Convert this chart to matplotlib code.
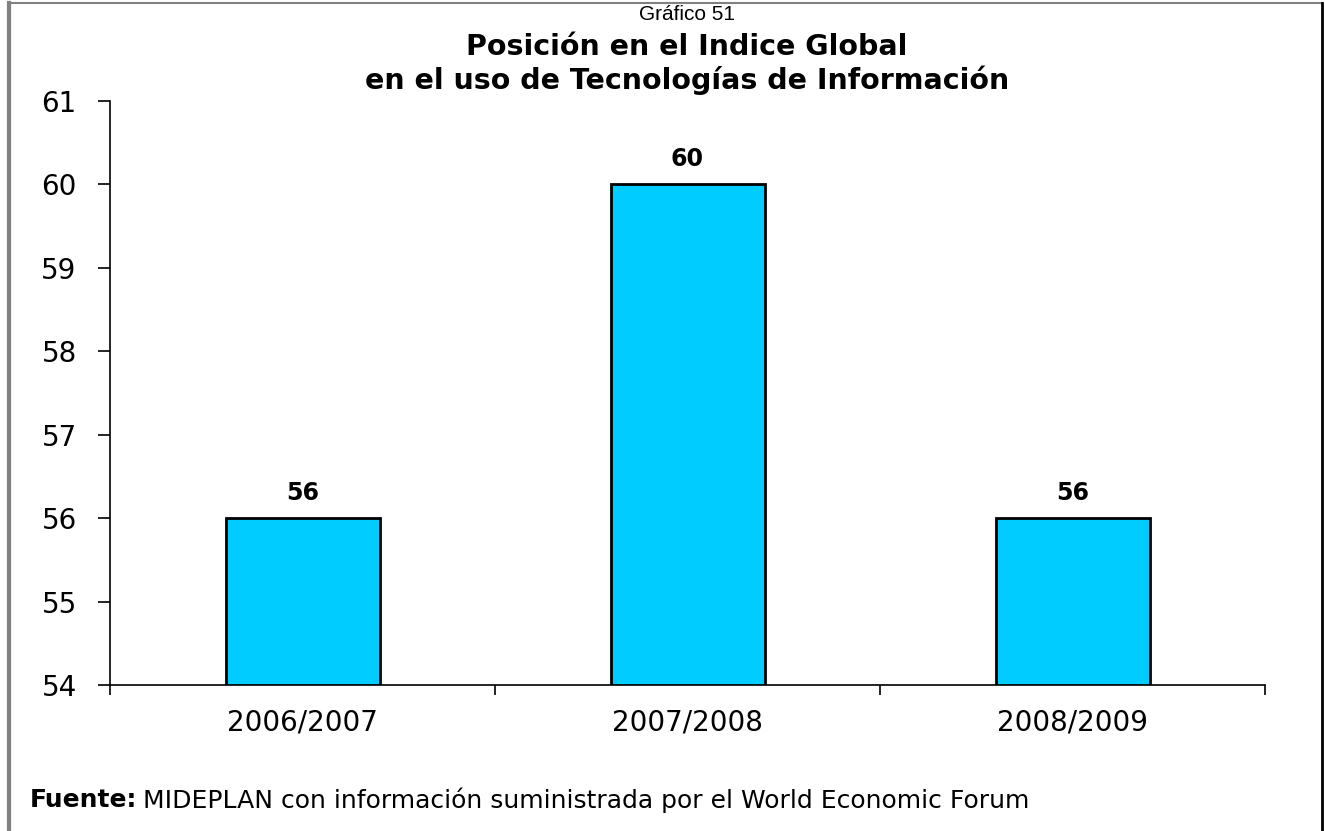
import matplotlib.pyplot as plt
from matplotlib.lines import Line2D

periodos = ['2006/2007', '2007/2008', '2008/2009']
posicion = [56, 60, 56]
y_ticks = [54, 55, 56, 57, 58, 59, 60, 61]

fig = plt.figure(figsize=(13.25, 8.31), dpi=100)
ax = fig.add_axes([110/1325, 1-685/831, 1155/1325, 584/831])

x = range(len(periodos))
ax.bar(x, [v - 54 for v in posicion], bottom=54, width=0.4,
       color='#00CCFF', edgecolor='black', linewidth=2, zorder=3)

for i, v in enumerate(posicion):
    ax.text(i, v + 0.3, str(v), ha='center', va='center',
            fontsize=17, fontweight='bold')

ax.set_xlim(-0.5, 2.5)
ax.set_ylim(54, 61)
ax.set_yticks(y_ticks)
ax.set_yticklabels([str(t) for t in y_ticks], fontsize=20)
ax.tick_params(axis='y', direction='out', length=9, width=1.2, pad=15)

# ticks del eje x en los limites de categoria, etiquetas centradas
ax.set_xticks([-0.5, 0.5, 1.5, 2.5])
ax.set_xticklabels([])
ax.tick_params(axis='x', direction='out', length=7, width=1.2)
ax.set_xticks(list(x), minor=True)
ax.set_xticklabels(periodos, minor=True, fontsize=20)
ax.tick_params(axis='x', which='minor', length=0, pad=17)

for s in ['top', 'right']:
    ax.spines[s].set_visible(False)
ax.spines['left'].set_linewidth(1.2)
ax.spines['bottom'].set_linewidth(1.2)

cx = 687 / 1325
fig.text(cx, 1-14/831, 'Gráfico 51', ha='center', va='center',
         fontsize=15, family='Liberation Sans')
fig.text(cx, 1-47/831, 'Posición en el Indice Global', ha='center', va='center',
         fontsize=20.5, fontweight='bold')
fig.text(cx, 1-80/831, 'en el uso de Tecnologías de Información', ha='center', va='center',
         fontsize=20.5, fontweight='bold')

t = fig.text(30/1325, 1-800/831, 'Fuente:', ha='left', va='center',
             fontsize=18, fontweight='bold')
fig.canvas.draw()
bb = t.get_window_extent()
fig.text((bb.x1 + 6)/1325, 1-800/831,
         'MIDEPLAN con información suministrada por el World Economic Forum',
         ha='left', va='center', fontsize=18)

# marco de la figura
fig.add_artist(Line2D([9/1325, 9/1325], [0, 1-3/831], color='#808080', lw=3,
                      transform=fig.transFigure))
fig.add_artist(Line2D([9/1325, 1322/1325], [1-3/831, 1-3/831], color='#808080', lw=1.5,
                      transform=fig.transFigure))
fig.add_artist(Line2D([1322/1325, 1322/1325], [0, 1-3/831], color='black', lw=2,
                      transform=fig.transFigure))

fig.savefig('out.png', dpi=100)
